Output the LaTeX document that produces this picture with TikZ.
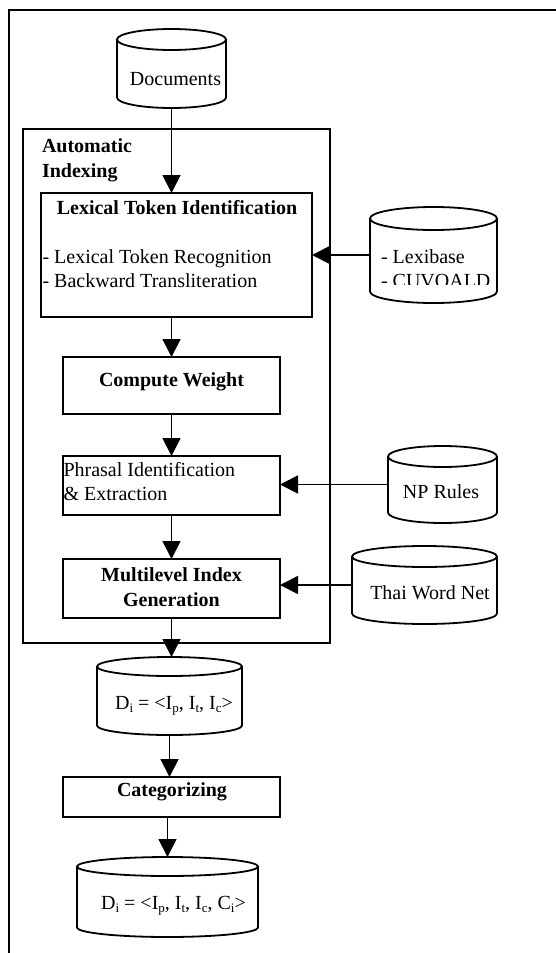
\documentclass[tikz,border=0pt]{standalone}
\usepackage{fontspec}
\setmainfont{Liberation Serif}
\usetikzlibrary{arrows.meta,calc}

% small lowered index letters
\newcommand\lowix[1]{\raisebox{-0.32ex}{\fontsize{13}{13}\selectfont #1}}

% outline of a storage "can" drawn around a rectangular node
\newcommand\canoutline[2][10.5]{%
  \draw[ln] let \p1=(#2.north west), \p2=(#2.south east), \n1={(\x2-\x1)/2} in
    (\x1,\y1-#1pt) -- (\x1,\y2+#1pt)
      arc[start angle=180, end angle=360, x radius=\n1*1pt, y radius=#1pt]
      -- (\x2,\y1-#1pt)
    (\x1+\n1*1pt,\y1-#1pt) ellipse[x radius=\n1*1pt, y radius=#1pt];}

\begin{document}
\begin{tikzpicture}[x=1pt,y=1pt,
  every node/.style={font=\fontsize{20}{24}\selectfont, inner sep=0pt, outer sep=0pt},
  ln/.style={line width=1.8pt},
  stagebox/.style={draw, ln},
  canbox/.style={draw=none},
  txt/.style={anchor=center},
  ltxt/.style={anchor=west, align=left},
  bt/.style={font=\fontsize{20}{25}\selectfont\bfseries},
  flow/.style={ln, -{Triangle[length=18pt,width=18pt]}}]

\useasboundingbox (0,0) rectangle (556,-953);

% page frame
\draw[line width=1.8pt] (9,-960) -- (9,-10) -- (560,-10);

% automatic indexing frame
\node[stagebox, minimum width=307pt, minimum height=514pt] (auto) at (176.5,-386) {};
\node[ltxt, bt, anchor=north west] (autolbl) at (42,-139) {Automatic\\Indexing};

% stages
\node[stagebox, minimum width=271pt, minimum height=124pt] (lex) at (176.5,-255) {};
\node[txt, bt] (lextitle) at (177,-208) {Lexical Token Identification};
\node[ltxt] (lexitems) at (42.5,-269) {- Lexical Token Recognition\\- Backward Transliteration};

\node[stagebox, minimum width=217pt, minimum height=57pt] (weight) at (171.5,-385.5) {};
\node[txt, bt] (weighttxt) at (171.5,-382) {Compute Weight};

\node[stagebox, minimum width=217pt, minimum height=59pt] (phr) at (171.5,-485.5) {};
\node[ltxt] (phrtxt) at (63.5,-482) {Phrasal Identification\\\& Extraction};

\node[stagebox, minimum width=217pt, minimum height=59pt] (multi) at (171.5,-588.5) {};
\node[txt, bt, align=center] (multitxt) at (171.5,-587.5) {Multilevel Index\\Generation};

\node[stagebox, minimum width=217pt, minimum height=40pt] (cat) at (171.5,-797) {};
\node[txt, bt] (cattxt) at (172,-791.5) {Categorizing};

% storage cans
\node[canbox, minimum width=109pt, minimum height=79pt] (docs) at (171.5,-68.5) {};
\canoutline{docs}
\node[txt] (docstxt) at (175.5,-79) {Documents};

\node[canbox, minimum width=127pt, minimum height=96pt] (lexdb) at (433.5,-255) {};
\canoutline[11.5]{lexdb}
\begin{scope}
  \clip (360,-200) rectangle (505,-284.5);
  \node[ltxt] (lexdbtxt) at (381,-269) {- Lexibase\\- CUVOALD};
\end{scope}

\node[canbox, minimum width=109pt, minimum height=77pt] (np) at (442.5,-484.5) {};
\canoutline{np}
\node[txt] (nptxt) at (441,-492) {NP Rules};

\node[canbox, minimum width=145pt, minimum height=78pt] (wn) at (424.5,-585) {};
\canoutline{wn}
\node[txt] (wntxt) at (430,-593) {Thai Word Net};

\node[canbox, minimum width=145pt, minimum height=78pt] (di) at (169.5,-696) {};
\canoutline[9.5]{di}
\node[txt] (ditxt) at (174,-706) {D\lowix{i} = <I\lowix{p}, I\lowix{t}, I\lowix{c}>};

\node[canbox, minimum width=181pt, minimum height=80pt] (dc) at (167.5,-897) {};
\canoutline[9.5]{dc}
\node[txt] (dctxt) at (173.5,-906) {D\lowix{i} = <I\lowix{p}, I\lowix{t}, I\lowix{c}, C\lowix{i}>};

% main flow
\draw[flow] (docs.south) -- (docs.south |- lex.north);
\draw[flow] (weight.north |- lex.south) -- (weight.north);
\draw[flow] (weight.south) -- (phr.north);
\draw[flow] (phr.south) -- (multi.north);
\draw[flow] (multi.south) -- (multi.south |- di.north);
\draw[flow] (di.south) -- (di.south |- cat.north);
\draw[flow] (dc.north |- cat.south) -- (dc.north);

% resources feeding the stages
\draw[flow] (lexdb.west) -- (lexdb.west -| lex.east);
\draw[flow] (np.west) -- (np.west -| phr.east);
\draw[flow] (wn.west) -- (wn.west -| multi.east);

\end{tikzpicture}
\end{document}
